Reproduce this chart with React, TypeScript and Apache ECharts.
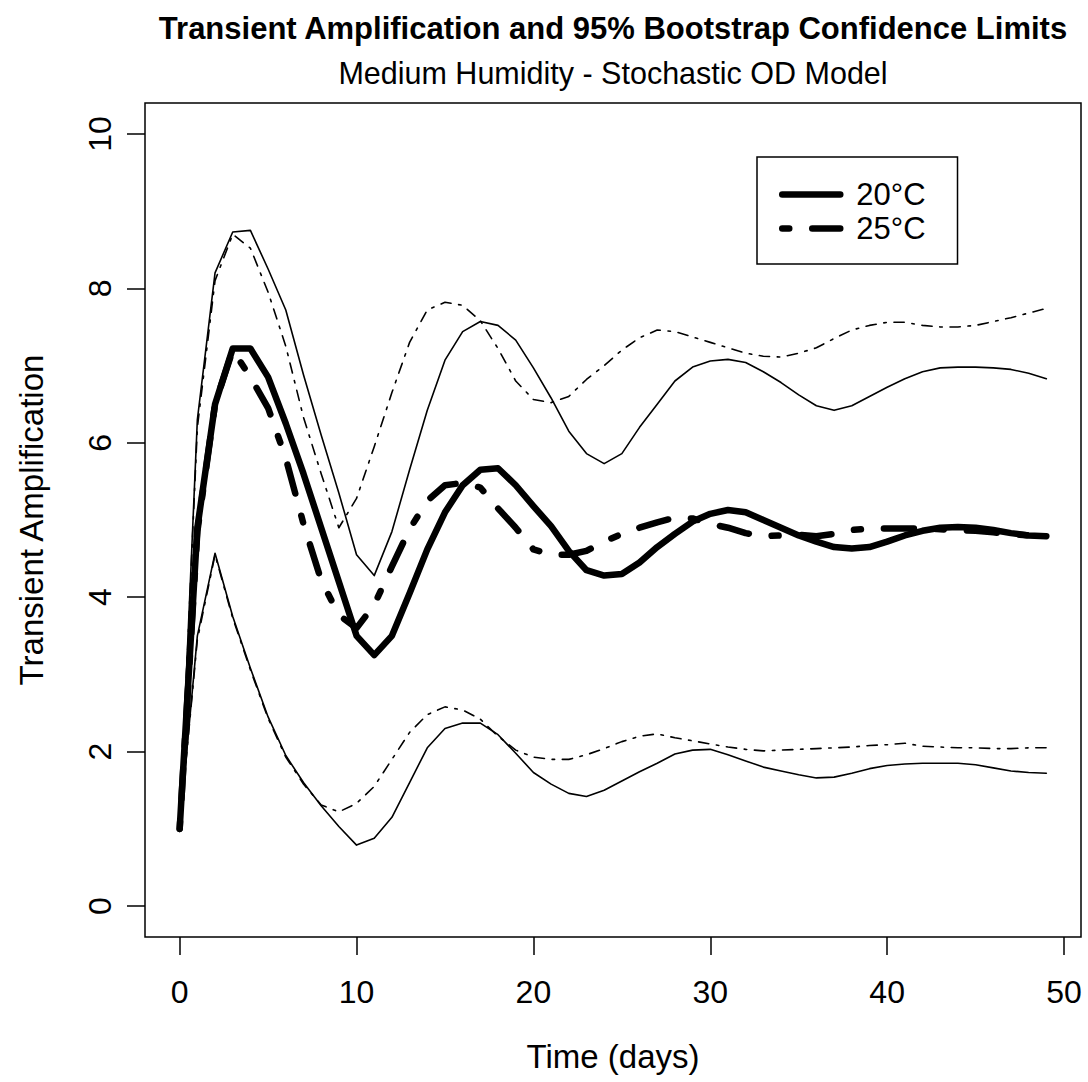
import React, { useEffect, useRef } from "react";
import * as echarts from "echarts";

// Time points (days)
const days = [
  0, 1, 2, 3, 4, 5, 6, 7, 8, 9, 10, 11, 12, 13, 14, 15, 16, 17, 18, 19, 20, 21, 22, 23, 24,
  25, 26, 27, 28, 29, 30, 31, 32, 33, 34, 35, 36, 37, 38, 39, 40, 41, 42, 43, 44, 45, 46, 47, 48, 49,
];

// Transient amplification, 20°C: estimate and 95% bootstrap limits
const mean20 = [
  1.0, 4.9, 6.5, 7.22, 7.22, 6.85, 6.25, 5.6, 4.9, 4.2, 3.5, 3.25, 3.5, 4.05, 4.62, 5.1, 5.45, 5.65, 5.67, 5.45,
  5.18, 4.92, 4.6, 4.35, 4.28, 4.3, 4.45, 4.65, 4.82, 4.98, 5.08, 5.13, 5.1, 5.0, 4.9, 4.8, 4.72, 4.65, 4.63, 4.65,
  4.72, 4.8, 4.86, 4.9, 4.91, 4.9, 4.87, 4.83, 4.8, 4.79,
];
const upper20 = [
  1.0, 6.3, 8.2, 8.73, 8.75, 8.25, 7.72, 6.88, 6.1, 5.35, 4.55, 4.28, 4.85, 5.65, 6.42, 7.07, 7.44, 7.57, 7.52, 7.33,
  6.97, 6.58, 6.15, 5.86, 5.73, 5.86, 6.2, 6.5, 6.8, 6.98, 7.06, 7.08, 7.04, 6.92, 6.78, 6.62, 6.48, 6.42, 6.48, 6.6,
  6.72, 6.83, 6.92, 6.97, 6.98, 6.98, 6.97, 6.95, 6.9, 6.83,
];
const lower20 = [
  1.0, 3.5, 4.57, 3.75, 3.08, 2.45, 1.95, 1.6, 1.3, 1.03, 0.79, 0.88, 1.15, 1.6, 2.05, 2.3, 2.37, 2.37, 2.22, 1.98,
  1.73, 1.58, 1.46, 1.42, 1.5, 1.62, 1.74, 1.85, 1.97, 2.02, 2.03, 1.96, 1.88, 1.8, 1.75, 1.7, 1.66, 1.67, 1.72, 1.78,
  1.82, 1.84, 1.85, 1.85, 1.85, 1.83, 1.79, 1.75, 1.73, 1.72,
];

// Transient amplification, 25°C: estimate and 95% bootstrap limits
const mean25 = [
  1.0, 4.85, 6.5, 7.2, 6.85, 6.45, 5.8, 4.95, 4.22, 3.77, 3.6, 3.9, 4.4, 4.88, 5.25, 5.45, 5.48, 5.42, 5.15, 4.9,
  4.62, 4.55, 4.55, 4.6, 4.72, 4.82, 4.9, 4.97, 5.03, 5.02, 4.95, 4.9, 4.83, 4.79, 4.8, 4.81, 4.79, 4.82, 4.87, 4.89,
  4.89, 4.89, 4.89, 4.88, 4.87, 4.86, 4.84, 4.82, 4.8, 4.8,
];
const upper25 = [
  1.0, 6.2, 8.1, 8.7, 8.52, 7.95, 7.25, 6.33, 5.6, 4.9, 5.28, 5.95, 6.65, 7.3, 7.72, 7.82, 7.78, 7.58, 7.22, 6.8,
  6.56, 6.52, 6.6, 6.82, 7.0, 7.2, 7.36, 7.46, 7.44, 7.37, 7.3, 7.23, 7.16, 7.12, 7.11, 7.16, 7.23, 7.35, 7.46, 7.52,
  7.56, 7.56, 7.52, 7.5, 7.5, 7.52, 7.57, 7.62, 7.68, 7.74,
];
const lower25 = [
  1.0, 3.45, 4.55, 3.73, 3.06, 2.43, 1.93, 1.58, 1.31, 1.22, 1.33, 1.55, 1.9, 2.25, 2.48, 2.58, 2.54, 2.42, 2.2, 2.02,
  1.93, 1.9, 1.9, 1.96, 2.04, 2.13, 2.2, 2.23, 2.18, 2.14, 2.1, 2.06, 2.03, 2.01, 2.02, 2.03, 2.04, 2.05, 2.06, 2.08,
  2.09, 2.11, 2.07, 2.06, 2.05, 2.05, 2.04, 2.04, 2.05, 2.05,
];

// Axis ticks
const xTicks = [0, 10, 20, 30, 40, 50];
const yTicks = [0, 2, 4, 6, 8, 10];

const legendNames = ["20°C", "25°C"];
const titleText = "Transient Amplification and 95% Bootstrap Confidence Limits";
const subtitleText = "Medium Humidity - Stochastic OD Model";

const FONT = "'Liberation Sans', Arial, Helvetica, sans-serif";

const pairs = (ys: number[]) => days.map((d, i) => [d, ys[i]]);

const THICK = 6.5;
const THIN = 1.6;
const dotDashThick = [7, 23, 30, 23];
const dotDashThin = [2.5, 7.7, 10.3, 7.7];

function makeLine(name: string, ys: number[], width: number, dash: any, z: number) {
  return {
    name,
    type: "line",
    data: pairs(ys),
    symbol: "none",
    showSymbol: false,
    z,
    silent: true,
    itemStyle: { color: "#000" },
    lineStyle: {
      color: "#000",
      width,
      type: dash,
      cap: "round",
      join: "round",
    },
  };
}

export default function App() {
  const ref = useRef<HTMLDivElement>(null);

  useEffect(() => {
    if (!ref.current) return;
    const chart = echarts.init(ref.current, undefined, { renderer: "svg" });
    chart.setOption({
      animation: false,
      backgroundColor: "#fff",
      textStyle: { fontFamily: FONT, color: "#000" },
      graphic: [
        {
          type: "text",
          x: 613,
          y: 28,
          style: {
            text: titleText,
            font: `bold 31px ${FONT}`,
            fill: "#000",
            textAlign: "center",
            textVerticalAlign: "middle",
          },
        },
        {
          type: "text",
          x: 613,
          y: 73,
          style: {
            text: subtitleText,
            font: `30.5px ${FONT}`,
            fill: "#000",
            textAlign: "center",
            textVerticalAlign: "middle",
          },
        },
      ],
      grid: {
        left: 145,
        right: 7,
        top: 103,
        bottom: 145,
        show: true,
        borderColor: "#000",
        borderWidth: 1.5,
        backgroundColor: "transparent",
      },
      legend: {
        data: [
          {
            name: legendNames[0],
            itemStyle: { opacity: 0 },
            lineStyle: { color: "#000", width: THICK, type: "solid", cap: "round" },
          },
          {
            name: legendNames[1],
            itemStyle: { opacity: 0 },
            lineStyle: { color: "#000", width: THICK, type: dotDashThick, cap: "round" },
          },
        ],
        orient: "vertical",
        left: 757,
        top: 157,
        padding: [22, 32, 20, 22],
        itemGap: 3,
        itemWidth: 58,
        itemHeight: 14,
        borderColor: "#000",
        borderWidth: 1.5,
        selectedMode: false,
        textStyle: {
          fontFamily: FONT,
          fontSize: 31,
          color: "#000",
          lineHeight: 30,
          padding: [0, 0, 0, 11],
        },
      },
      xAxis: {
        type: "value",
        min: -1.96,
        max: 50.96,
        axisLine: { show: false, onZero: false },
        splitLine: { show: false },
        axisTick: {
          show: true,
          length: 18,
          customValues: xTicks,
          lineStyle: { color: "#000", width: 1.5 },
        },
        axisLabel: {
          customValues: xTicks,
          fontSize: 32,
          margin: 39,
          color: "#000",
          fontFamily: FONT,
        },
        name: "Time (days)",
        nameLocation: "middle",
        nameGap: 103,
        nameTextStyle: { fontSize: 33, color: "#000", fontFamily: FONT },
      },
      yAxis: {
        type: "value",
        min: -0.4,
        max: 10.4,
        axisLine: { show: false, onZero: false },
        splitLine: { show: false },
        axisTick: {
          show: true,
          length: 18,
          customValues: yTicks,
          lineStyle: { color: "#000", width: 1.5 },
        },
        axisLabel: {
          customValues: yTicks,
          fontSize: 32,
          margin: 29,
          rotate: 90,
          color: "#000",
          fontFamily: FONT,
        },
        name: "Transient Amplification",
        nameLocation: "middle",
        nameGap: 97,
        nameTextStyle: { fontSize: 33, color: "#000", fontFamily: FONT },
      },
      series: [
        makeLine("20°C", mean20, THICK, "solid", 5),
        makeLine("25°C", mean25, THICK, dotDashThick, 5),
        makeLine("20°C upper limit", upper20, THIN, "solid", 3),
        makeLine("20°C lower limit", lower20, THIN, "solid", 3),
        makeLine("25°C upper limit", upper25, THIN, dotDashThin, 3),
        makeLine("25°C lower limit", lower25, THIN, dotDashThin, 3),
      ],
    });
    return () => chart.dispose();
  }, []);

  return (
    <div
      ref={ref}
      style={{ position: "fixed", left: 0, top: 0, width: 1088, height: 1082, background: "#fff" }}
    />
  );
}
